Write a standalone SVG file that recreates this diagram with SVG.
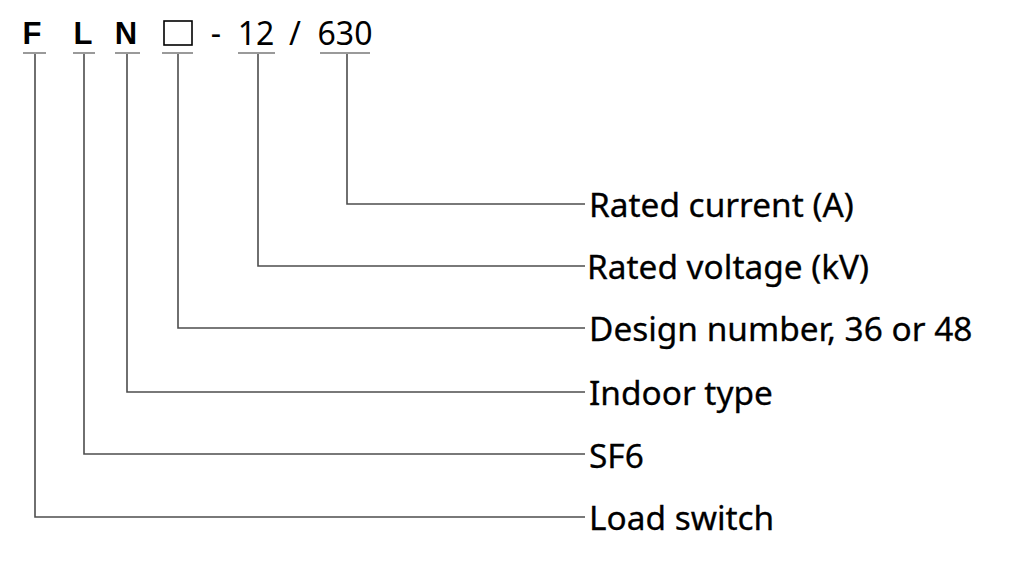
<svg xmlns="http://www.w3.org/2000/svg" width="1012" height="576" viewBox="0 0 1012 576">
<style>
.code{font-family:"Liberation Sans",Arial,sans-serif;font-weight:bold;font-size:31px;fill:#000}
.num{font-family:"Noto Sans","Open Sans",sans-serif;font-size:32px;fill:#000}
.lbl{font-family:"Noto Sans","Open Sans",sans-serif;font-size:33.4px;fill:#000;stroke:#000;stroke-width:0.3}
.ul{stroke:#9a9a9a;stroke-width:2;fill:none}
.conn{stroke:#4d4d4d;stroke-width:1.6;fill:none}
</style>
<rect width="1012" height="576" fill="#fff"/>
<g id="code">
  <g id="c-F"><text class="code" x="32" y="44" text-anchor="middle">F</text><line class="ul" x1="23" y1="53" x2="46" y2="53"/></g>
  <g id="c-L"><text class="code" x="83" y="44" text-anchor="middle">L</text><line class="ul" x1="73" y1="53" x2="95" y2="53"/></g>
  <g id="c-N"><text class="code" x="126" y="44" text-anchor="middle">N</text><line class="ul" x1="115" y1="53" x2="140" y2="53"/></g>
  <g id="c-box"><rect x="164" y="21" width="28" height="24" fill="none" stroke="#000" stroke-width="1.6"/><line class="ul" x1="162" y1="53" x2="193" y2="53"/></g>
  <g id="c-dash"><text class="num" x="216" y="45" text-anchor="middle">-</text></g>
  <g id="c-12"><text class="num" x="256" y="45" text-anchor="middle">12</text><line class="ul" x1="238" y1="53" x2="275" y2="53"/></g>
  <g id="c-slash"><text class="num" x="295" y="45" text-anchor="middle">/</text></g>
  <g id="c-630"><text class="num" x="345" y="45" text-anchor="middle">630</text><line class="ul" x1="320" y1="53" x2="370" y2="53"/></g>
</g>
<g id="connectors">
  <polyline class="conn" points="347,54 347,204 585,204"/>
  <polyline class="conn" points="258,54 258,266 585,266"/>
  <polyline class="conn" points="178,54 178,328 585,328"/>
  <polyline class="conn" points="127,54 127,392 585,392"/>
  <polyline class="conn" points="84,54 84,454 585,454"/>
  <polyline class="conn" points="35,54 35,517 585,517"/>
</g>
<g id="n-current"><text class="lbl" x="589" y="217">Rated current (A)</text></g>
<g id="n-voltage"><text class="lbl" x="587" y="279">Rated voltage (kV)</text></g>
<g id="n-design"><text class="lbl" x="589" y="341">Design number, 36 or 48</text></g>
<g id="n-indoor"><text class="lbl" x="589" y="405">Indoor type</text></g>
<g id="n-sf6"><text class="lbl" x="589" y="468">SF6</text></g>
<g id="n-load"><text class="lbl" x="589" y="530">Load switch</text></g>
</svg>
